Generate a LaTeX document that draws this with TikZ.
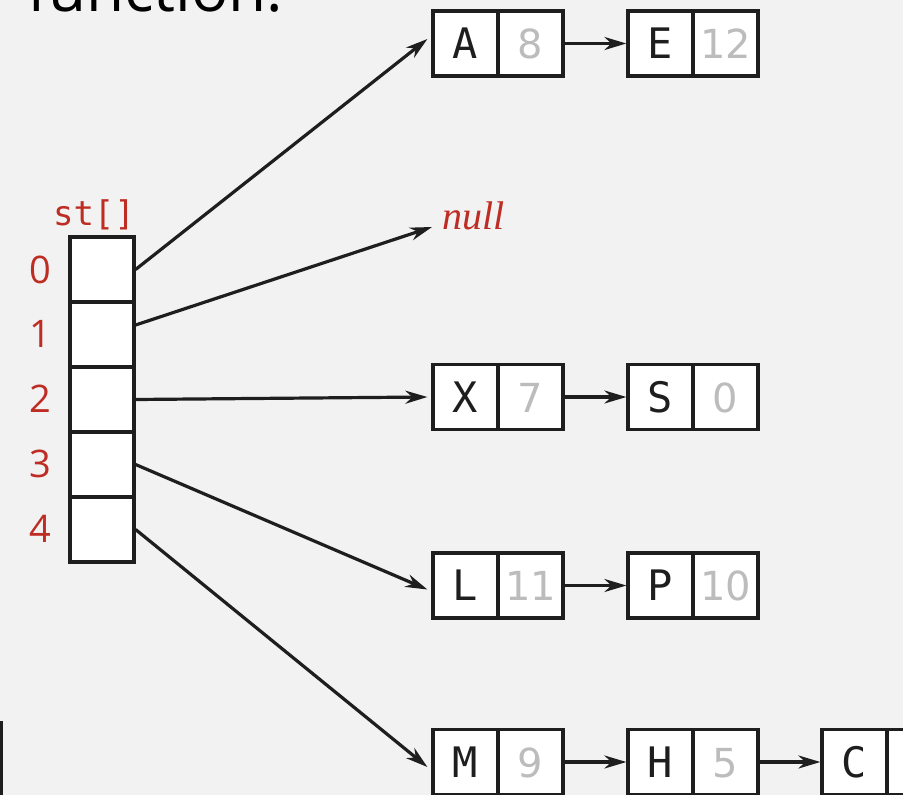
\documentclass[tikz,border=0pt]{standalone}
\usepackage{fontspec}
\newfontfamily\monof{DejaVu Sans Mono}
\newfontfamily\numf{DejaVu Sans}
\newfontfamily\sansf{Open Sans}
\newfontfamily\nullf{Liberation Serif}
\usetikzlibrary{arrows.meta,calc}
\definecolor{bg}{RGB}{242,242,242}
\definecolor{bookred}{RGB}{190,45,35}
\definecolor{ink}{RGB}{30,30,30}
\definecolor{lightnum}{RGB}{188,188,188}
\begin{document}
\begin{tikzpicture}[x=1pt,y=-1pt,
  cellbox/.style={draw=ink,fill=white,line width=3.2pt,minimum width=65pt,minimum height=65pt,inner sep=0pt,text height=30pt,text depth=0pt},
  keybox/.style={cellbox,text=ink,font=\monof\fontsize{42}{42}\selectfont},
  valbox/.style={cellbox,text=lightnum,font=\numf\fontsize{40}{40}\selectfont},
  arraycell/.style={draw=ink,fill=white,line width=3.2pt,minimum width=64pt,minimum height=65pt,inner sep=0pt},
  link/.style={draw=ink,line width=3.2pt,-{Stealth[length=22pt,width=13pt,inset=7pt]}},
  idx/.style={text=bookred,font=\sansf\fontsize{38}{38}\selectfont,anchor=base,inner sep=0pt}
]
\useasboundingbox (0,0) rectangle (903,795);
\fill[bg] (0,0) rectangle (903,795);
\clip (0,0) rectangle (903,795);

\node[font=\sansf\fontsize{62}{62}\selectfont,anchor=base west,inner sep=0pt,text=black] (fn) at (27,11) {function.};

% partial box at left
\node[arraycell,minimum width=80pt,minimum height=120pt,anchor=north east] (lb) at (3,721) {};

% array
\node[text=bookred,font=\monof\fontsize{34}{34}\selectfont,anchor=base,inner sep=0pt] (st) at (94,225) {st[]};
\foreach \i in {0,...,4}{
  \node[arraycell] (c\i) at (102,{269.5+65*\i}) {};
  \node[idx] (i\i) at (40,{283+64.75*\i}) {\i};
}

% lists
\node[keybox] (A) at (465.5,43.5) {A};
\node[valbox] (A8) at (530.5,43.5) {8};
\node[keybox] (E) at (660.5,43.5) {E};
\node[valbox] (E12) at (725.5,43.5) {12};

\node[text=bookred,font=\nullf\itshape\fontsize{40}{40}\selectfont,anchor=base west,inner sep=0pt] (null) at (442,229) {null};

\node[keybox] (X) at (465.5,397) {X};
\node[valbox] (X7) at (530.5,397) {7};
\node[keybox] (S) at (660.5,397) {S};
\node[valbox] (S0) at (725.5,397) {0};

\node[keybox] (L) at (465.5,585.5) {L};
\node[valbox] (L11) at (530.5,585.5) {11};
\node[keybox] (P) at (660.5,585.5) {P};
\node[valbox] (P10) at (725.5,585.5) {10};

\node[keybox] (M) at (465.5,762) {M};
\node[valbox] (M9) at (530.5,762) {9};
\node[keybox] (H) at (660.5,762) {H};
\node[valbox] (H5) at (725.5,762) {5};
\node[keybox] (C) at (854.5,762) {C};
\node[valbox] (Cn) at (919.5,762) {};

% array pointers
\draw[link] (c0.east) -- ($(A.west)+(-4,-4.5)$);
\draw[link] ($(c1.east)+(0,-9.5)$) -- ($(null.base west)+(-10,-2)$);
\draw[link] (c2.east) -- ($(X.west)+(-4,0)$);
\draw[link] (c3.east) -- ($(L.west)+(-4,4)$);
\draw[link] (c4.east) -- ($(M.west)+(-4,5)$);

% list links
\draw[link] (A8.east) -- (E.west);
\draw[link] (X7.east) -- (S.west);
\draw[link] (L11.east) -- (P.west);
\draw[link] (M9.east) -- (H.west);
\draw[link] (H5.east) -- (C.west);
\end{tikzpicture}
\end{document}
